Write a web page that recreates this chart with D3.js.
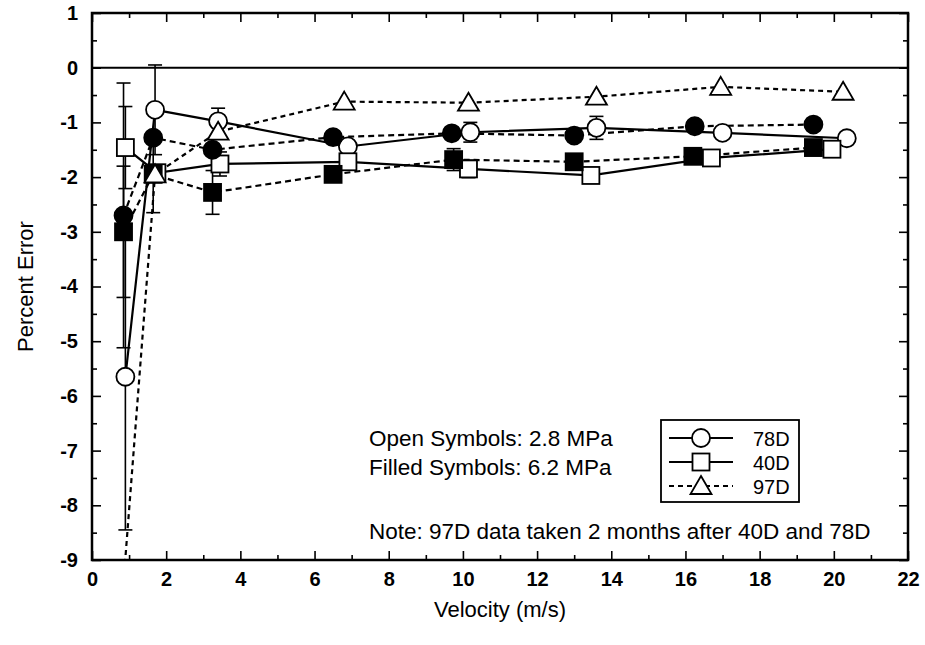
<!DOCTYPE html>
<html>
<head>
<meta charset="utf-8">
<script src="https://cdn.jsdelivr.net/npm/d3@7"></script>
<style>
  html, body { margin: 0; padding: 0; background: #fff; }
  svg { display: block; font-family: "Liberation Sans", Arial, sans-serif; }
</style>
</head>
<body>
<svg id="chart" width="925" height="645"></svg>
<script>
// --- data (velocity m/s, percent error, +/- error bar) ---
const xTicks = [0, 2, 4, 6, 8, 10, 12, 14, 16, 18, 20, 22];
const yTicks = [1, 0, -1, -2, -3, -4, -5, -6, -7, -8, -9];

// 78D, 2.8 MPa (open circles)
const vel78Open = [0.9, 1.7, 3.4, 6.9, 10.2, 13.6, 17.0, 20.35];
const err78Open = [-5.65, -0.77, -0.98, -1.44, -1.18, -1.1, -1.19, -1.29];
const bar78Open = [2.8, 0.82, 0.24, 0, 0.18, 0.21, 0, 0];

// 78D, 6.2 MPa (filled circles)
const vel78Fill = [0.85, 1.65, 3.25, 6.5, 9.7, 13.0, 16.25, 19.45];
const err78Fill = [-2.7, -1.28, -1.5, -1.27, -1.2, -1.24, -1.07, -1.04];
const bar78Fill = [2.42, 0, 0, 0, 0, 0, 0, 0];

// 40D, 2.8 MPa (open squares)
const vel40Open = [0.9, 1.75, 3.45, 6.9, 10.15, 13.45, 16.7, 19.95];
const err40Open = [-1.46, -1.92, -1.76, -1.72, -1.85, -1.97, -1.65, -1.49];
const bar40Open = [0.75, 0, 0.22, 0, 0.16, 0, 0, 0];

// 40D, 6.2 MPa (filled squares)
const vel40Fill = [0.85, 1.65, 3.25, 6.5, 9.75, 13.0, 16.2, 19.45];
const err40Fill = [-3.0, -1.95, -2.28, -1.95, -1.68, -1.72, -1.62, -1.46];
const bar40Fill = [1.2, 0.7, 0.4, 0, 0.2, 0, 0, 0];

// 97D, 2.8 MPa (open triangles)
const vel97Open = [0.85, 1.7, 3.4, 6.8, 10.15, 13.6, 16.95, 20.25];
const err97Open = [-9.4, -1.95, -1.17, -0.62, -0.64, -0.53, -0.35, -0.44];
const bar97Open = [0, 0, 0, 0, 0, 0, 0, 0];

const legendNames = ["78D", "40D", "97D"];

function pts(xs, ys, es) { return xs.map((v, i) => ({ x: v, y: ys[i], e: es[i] })); }

const series = [
  { shape: "circle",   filled: false, dash: null,  data: pts(vel78Open, err78Open, bar78Open) },
  { shape: "square",   filled: false, dash: null,  data: pts(vel40Open, err40Open, bar40Open) },
  { shape: "circle",   filled: true,  dash: "6,4", data: pts(vel78Fill, err78Fill, bar78Fill) },
  { shape: "square",   filled: true,  dash: "6,4", data: pts(vel40Fill, err40Fill, bar40Fill) },
  { shape: "triangle", filled: false, dash: "5,4", data: pts(vel97Open, err97Open, bar97Open) }
];

const W = 925, H = 645;
const m = { top: 13, right: 17, bottom: 85, left: 92 };
const iW = W - m.left - m.right;
const iH = H - m.top - m.bottom;

const svg = d3.select("#chart");
const g = svg.append("g").attr("transform", `translate(${m.left},${m.top})`);

const x = d3.scaleLinear().domain([0, 22]).range([0, iW]);
const y = d3.scaleLinear().domain([-9, 1]).range([iH, 0]);

svg.append("defs").append("clipPath").attr("id", "plotclip")
  .append("rect").attr("width", iW).attr("height", iH);

// zero reference line
g.append("line")
  .attr("x1", 0).attr("x2", iW).attr("y1", y(0)).attr("y2", y(0))
  .attr("stroke", "#000").attr("stroke-width", 2);

// axes (ticks point inwards, on all four sides)
const styleAxis = ax => {
  ax.select(".domain").remove();
  ax.selectAll(".tick line").attr("stroke", "#000").attr("stroke-width", 1.6);
  ax.selectAll(".tick text").attr("fill", "#000").style("font-size", "20px").style("font-weight", "bold")
    .style("font-family", "'Liberation Sans', Arial, sans-serif");
};
const minorX = d3.range(1, 22, 2);
const minorY = d3.range(-8.5, 1, 1);

g.append("g").attr("transform", `translate(0,${iH})`)
  .call(d3.axisBottom(x).tickValues(xTicks).tickFormat(d => String(d)).tickSize(-9).tickPadding(12))
  .call(styleAxis);
g.append("g").attr("transform", `translate(0,${iH})`)
  .call(d3.axisBottom(x).tickValues(minorX).tickFormat("").tickSize(-5)).call(styleAxis);
g.append("g")
  .call(d3.axisTop(x).tickValues(xTicks).tickFormat("").tickSize(-9)).call(styleAxis);
g.append("g")
  .call(d3.axisTop(x).tickValues(minorX).tickFormat("").tickSize(-5)).call(styleAxis);

g.append("g")
  .call(d3.axisLeft(y).tickValues(yTicks).tickFormat(d => String(d)).tickSize(-9).tickPadding(14))
  .call(styleAxis);
g.append("g")
  .call(d3.axisLeft(y).tickValues(minorY).tickFormat("").tickSize(-5)).call(styleAxis);
g.append("g").attr("transform", `translate(${iW},0)`)
  .call(d3.axisRight(y).tickValues(yTicks).tickFormat("").tickSize(-9)).call(styleAxis);
g.append("g").attr("transform", `translate(${iW},0)`)
  .call(d3.axisRight(y).tickValues(minorY).tickFormat("").tickSize(-5)).call(styleAxis);

g.append("rect").attr("width", iW).attr("height", iH)
  .attr("fill", "none").attr("stroke", "#000").attr("stroke-width", 2.5);

// axis titles
svg.append("text")
  .attr("transform", `translate(33,${m.top + iH / 2}) rotate(-90)`)
  .attr("text-anchor", "middle").style("font-size", "22px").text("Percent Error");
svg.append("text")
  .attr("x", m.left + iW / 2).attr("y", 617)
  .attr("text-anchor", "middle").style("font-size", "22px").text("Velocity (m/s)");

// connecting lines
const line = d3.line().x(d => x(d.x)).y(d => y(d.y));
const lines = g.append("g").attr("clip-path", "url(#plotclip)");
series.forEach(s => {
  lines.append("path").datum(s.data)
    .attr("fill", "none").attr("stroke", "#000")
    .attr("stroke-width", 2.2)
    .attr("stroke-dasharray", s.dash)
    .attr("d", line);
});

// error bars
const bars = g.append("g").attr("stroke", "#000").attr("stroke-width", 1.6);
series.forEach(s => {
  s.data.filter(d => d.e > 0).forEach(d => {
    const cx = x(d.x);
    bars.append("line").attr("x1", cx).attr("x2", cx).attr("y1", y(d.y - d.e)).attr("y2", y(d.y + d.e));
    [d.y - d.e, d.y + d.e].forEach(v => {
      bars.append("line").attr("x1", cx - 7).attr("x2", cx + 7).attr("y1", y(v)).attr("y2", y(v));
    });
  });
});

// markers
function drawMarker(sel, shape, filled, cx, cy) {
  const fill = filled ? "#000" : "#fff";
  if (shape === "circle") {
    sel.append("circle").attr("cx", cx).attr("cy", cy).attr("r", 9)
      .attr("fill", fill).attr("stroke", "#000").attr("stroke-width", 1.8);
  } else if (shape === "square") {
    sel.append("rect").attr("x", cx - 8.5).attr("y", cy - 8.5).attr("width", 17).attr("height", 17)
      .attr("fill", fill).attr("stroke", "#000").attr("stroke-width", 1.8);
  } else {
    sel.append("path")
      .attr("d", `M${cx},${cy - 10}L${cx + 10.5},${cy + 8}L${cx - 10.5},${cy + 8}Z`)
      .attr("fill", fill).attr("stroke", "#000").attr("stroke-width", 1.8);
  }
}
const marks = g.append("g").attr("clip-path", "url(#plotclip)");
series.forEach(s => {
  s.data.forEach(d => drawMarker(marks, s.shape, s.filled, x(d.x), y(d.y)));
});

// annotations
const note = svg.append("g").style("font-size", "22.5px");
note.append("text").attr("x", 369).attr("y", 446).text("Open Symbols: 2.8 MPa");
note.append("text").attr("x", 369).attr("y", 475).text("Filled Symbols: 6.2 MPa");
note.append("text").attr("x", 369).attr("y", 539).text("Note: 97D data taken 2 months after 40D and 78D");

// legend
const lg = svg.append("g").attr("transform", "translate(661,420)");
lg.append("rect").attr("width", 138).attr("height", 82)
  .attr("fill", "#fff").attr("stroke", "#000").attr("stroke-width", 1.8);
const legendShapes = [series[0], series[1], series[4]];
legendNames.forEach((name, i) => {
  const ry = 18 + i * 24;
  lg.append("line").attr("x1", 8).attr("x2", 72).attr("y1", ry).attr("y2", ry)
    .attr("stroke", "#000").attr("stroke-width", 2)
    .attr("stroke-dasharray", legendShapes[i].dash);
  drawMarker(lg, legendShapes[i].shape, false, 40, ry);
  lg.append("text").attr("x", 92).attr("y", ry + 8).style("font-size", "20px").text(name);
});
</script>
</body>
</html>
